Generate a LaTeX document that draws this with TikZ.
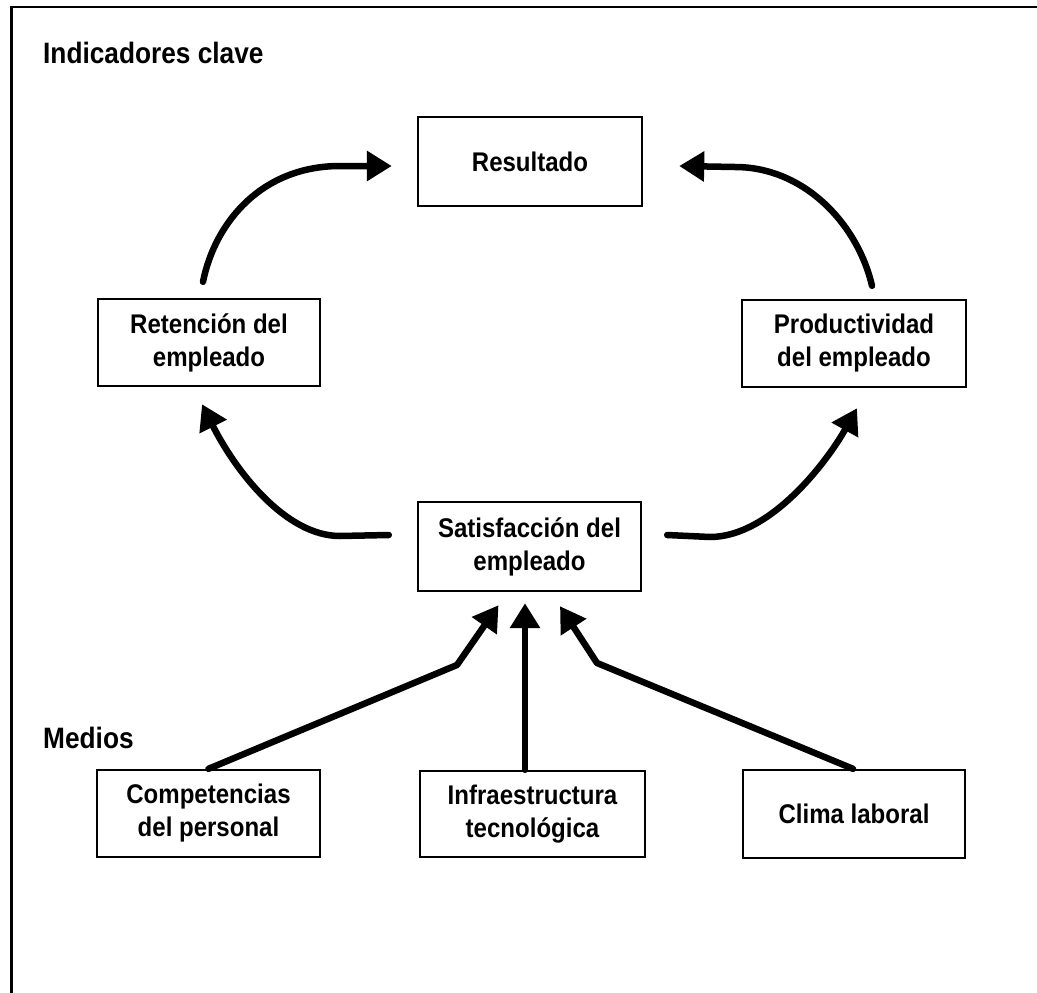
\documentclass[tikz,border=0pt]{standalone}
\usepackage{fontspec}
\usetikzlibrary{arrows.meta,calc}
\newfontfamily\diagfont{Liberation Sans}[FakeStretch=0.89]
\begin{document}
\begin{tikzpicture}[x=1pt,y=-1pt,
  stage/.style={draw, line width=2.4pt, inner sep=0pt, align=center,
    font=\diagfont\bfseries\fontsize{27}{33}\selectfont},
  heading/.style={anchor=base west, inner sep=0pt,
    font=\diagfont\bfseries\fontsize{29.5}{34}\selectfont},
  conn/.style={line width=6.5pt, line cap=round, line join=round,
    -{Triangle[length=25pt,width=29pt]}}
]
\useasboundingbox (0,0) rectangle (1037,993);

% open frame: top and left rules only
\draw[line width=2.6pt] (1037,7) -- (11.5,7) -- (11.5,993);

% section headings
\node[heading] (hind) at (43,63) {Indicadores clave};
\node[heading] (hmed) at (43,748) {Medios};

% boxes
\node[stage, minimum width=224pt, minimum height=89pt] (res) at (530,161.5) {Resultado};
\node[stage, minimum width=222pt, minimum height=87pt] (ret) at (209,342.5) {Retención del\\empleado};
\node[stage, minimum width=224pt, minimum height=87pt] (pro) at (854,343.5) {Productividad\\del empleado};
\node[stage, minimum width=223pt, minimum height=89pt] (sat) at (529.5,546.5) {Satisfacción del\\empleado};
\node[stage, minimum width=223pt, minimum height=87pt] (com) at (208.5,813.5) {Competencias\\del personal};
\node[stage, minimum width=225pt, minimum height=86pt] (inf) at (532.5,814) {Infraestructura\\tecnológica};
\node[stage, minimum width=222pt, minimum height=88pt] (cli) at (854,814) {Clima laboral};

% upper loop
\draw[conn] ($(ret.north)+(-6,-16)$) .. controls (215,222) and (262,166) .. (340,166)
  -- ($(res.west)+(-25,4.5)$);
\draw[conn] ($(pro.north)+(18,-13)$) .. controls (858,225) and (805,167) .. (735,167)
  -- ($(res.east)+(36,4.5)$);

% lower loop
\draw[conn] ($(sat.west)+(-28,-11.5)$) -- (340,536) .. controls (285,536) and (235,470)
  .. ($(ret.south)+(-7,17)$);
\draw[conn] ($(sat.east)+(25,-11.5)$) -- (710,537) .. controls (770,537) and (827,462)
  .. ($(pro.south)+(3,20)$);

% means feeding satisfaction
\draw[conn] (com.north) -- (457,665) -- ($(sat.south)+(-31,13)$);
\draw[conn] ($(inf.north)+(-7.5,0)$) -- ($(sat.south)+(-4.5,11)$);
\draw[conn] ($(cli.north)+(-1,0)$) -- (597,663) -- ($(sat.south)+(30.5,14)$);
\end{tikzpicture}
\end{document}
